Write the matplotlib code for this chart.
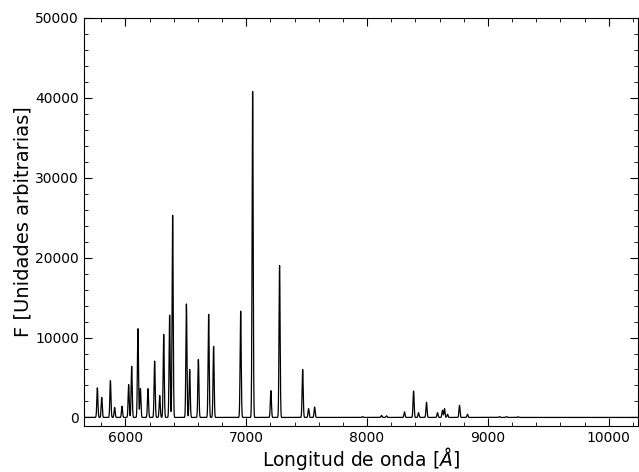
import numpy as np
import matplotlib
matplotlib.use('Agg')
import matplotlib.pyplot as plt
from matplotlib.ticker import AutoMinorLocator

# emission lines: centre [A], peak flux
centros = [5768, 5804, 5876, 5911, 5972, 6027, 6052, 6104, 6124, 6187,
           6242, 6284, 6317, 6366, 6391, 6505, 6532, 6604, 6689, 6730,
           6954, 7053, 7204, 7276, 7467, 7516, 7566,
           7963, 8120, 8161, 8310, 8385, 8426, 8492, 8583, 8624, 8641,
           8666, 8765, 8831, 9096, 9154, 9250]
alturas = [3700, 2500, 4600, 1250, 1400, 4100, 6400, 11100, 3600, 3600,
           7050, 2750, 10400, 12800, 25300, 14200, 6000, 7250, 12900, 8900,
           13300, 40800, 3350, 19000, 6000, 1100, 1300,
           100, 250, 200, 700, 3300, 600, 1900, 600, 900, 1100,
           400, 1500, 400, 100, 100, 80]
sigma = 4.5

lam = np.arange(5655, 10240, 0.5)
flujo = np.zeros_like(lam)
for c, h in zip(centros, alturas):
    flujo += h * np.exp(-0.5 * ((lam - c) / sigma) ** 2)

fig = plt.figure(figsize=(6.39, 4.72), dpi=100)
ax = fig.add_axes([0.131, 0.097, 0.867, 0.865])
ax.plot(lam, flujo, color='black', lw=0.9)
ax.set_xlim(5655, 10240)
ax.set_ylim(-1100, 50000)
ax.xaxis.set_minor_locator(AutoMinorLocator())
ax.yaxis.set_minor_locator(AutoMinorLocator())
ax.tick_params(which='both', direction='in', top=True, right=True)
ax.tick_params(which='major', length=6)
ax.tick_params(which='minor', length=3)
ax.set_xlabel(r'Longitud de onda [$\AA$]', fontsize=13.5, labelpad=0)
ax.set_ylabel('F [Unidades arbitrarias]', fontsize=14, labelpad=2)
fig.savefig('out.png', dpi=100)
